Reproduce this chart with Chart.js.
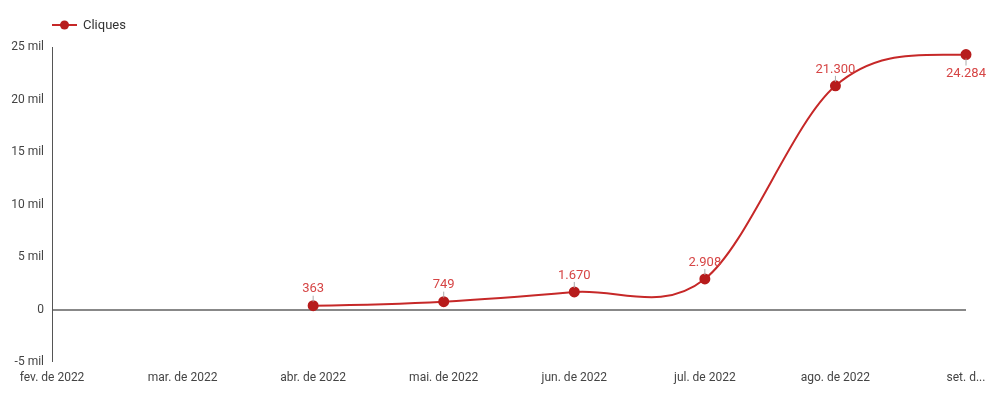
<!DOCTYPE html>
<html>
<head>
<meta charset="utf-8">
<script src="https://cdn.jsdelivr.net/npm/chart.js@4"></script>
<style>
    html, body { margin: 0; padding: 0; background: #fff; }
    #wrap { width: 990px; height: 393px; }
</style>
</head>
<body>
<div id="wrap"><canvas id="chart"></canvas></div>
<script>
// Dados do gráfico
const meses = ['fev. de 2022', 'mar. de 2022', 'abr. de 2022', 'mai. de 2022', 'jun. de 2022', 'jul. de 2022', 'ago. de 2022', 'set. de 2022'];
const cliques = [null, null, 363, 749, 1670, 2908, 21300, 24284];
const serieNome = 'Cliques';

const COR_LINHA = '#c62828';
const COR_PONTO = '#b71c1c';
const COR_ROTULO = '#d64545';
const FONTE = 'Roboto, "Noto Sans", sans-serif';

// formato pt-BR: 21.300
const fmt = v => v.toLocaleString('pt-BR');

// legenda desenhada à mão (linha + ponto)
const legendaPlugin = {
    id: 'legenda',
    afterDraw(chart) {
        const ctx = chart.ctx;
        ctx.save();
        ctx.strokeStyle = COR_LINHA;
        ctx.lineWidth = 2;
        ctx.beginPath();
        ctx.moveTo(52, 25);
        ctx.lineTo(77, 25);
        ctx.stroke();
        ctx.fillStyle = COR_PONTO;
        ctx.beginPath();
        ctx.arc(64.5, 25, 4.5, 0, Math.PI * 2);
        ctx.fill();
        ctx.fillStyle = '#333';
        ctx.font = '13px ' + FONTE;
        ctx.textBaseline = 'middle';
        ctx.fillText(serieNome, 83, 26);
        ctx.restore();
    }
};

// curva tipo Catmull-Rom (substitui os pontos de controle do Chart.js)
const curvaPlugin = {
    id: 'curva',
    beforeDatasetDraw(chart, args) {
        const meta = args.meta;
        const pts = meta.data.filter(p => !p.skip);
        const n = pts.length;
        if (n < 2) return;
        const passo = pts[1].x - pts[0].x;
        pts.forEach((p, i) => {
            let m;
            if (i === 0) m = (pts[1].y - p.y) / 2;
            else if (i === n - 1) m = (p.y - pts[i - 1].y) / 6;
            else m = (pts[i + 1].y - pts[i - 1].y) / 2;
            p.cp1x = p.x - passo / 3;
            p.cp1y = p.y - m / 3;
            p.cp2x = p.x + passo / 3;
            p.cp2y = p.y + m / 3;
        });
        meta.dataset._pointsUpdated = true;
    }
};

// rótulos de valor com pequena linha guia
const rotulosPlugin = {
    id: 'rotulos',
    afterDatasetsDraw(chart) {
        const ctx = chart.ctx;
        const meta = chart.getDatasetMeta(0);
        const dados = chart.data.datasets[0].data;
        const ultimo = dados.length - 1;
        ctx.save();
        ctx.font = '13px ' + FONTE;
        ctx.textAlign = 'center';
        meta.data.forEach((pt, i) => {
            const v = dados[i];
            if (v === null) return;
            const abaixo = i === ultimo;
            ctx.strokeStyle = '#aaa';
            ctx.lineWidth = 1;
            ctx.beginPath();
            if (abaixo) {
                ctx.moveTo(pt.x, pt.y + 4);
                ctx.lineTo(pt.x, pt.y + 11);
            } else {
                ctx.moveTo(pt.x, pt.y - 4);
                ctx.lineTo(pt.x, pt.y - 10);
            }
            ctx.stroke();
            ctx.fillStyle = COR_ROTULO;
            if (abaixo) {
                ctx.textBaseline = 'top';
                ctx.fillText(fmt(v), pt.x, pt.y + 13);
            } else {
                ctx.textBaseline = 'bottom';
                ctx.fillText(fmt(v), pt.x, pt.y - 10);
            }
        });
        ctx.restore();
    }
};

new Chart(document.getElementById('chart'), {
    type: 'line',
    data: {
        labels: meses,
        datasets: [{
            label: serieNome,
            data: cliques,
            borderColor: COR_LINHA,
            backgroundColor: COR_PONTO,
            pointBackgroundColor: COR_PONTO,
            pointBorderColor: COR_PONTO,
            pointRadius: 4.5,
            borderWidth: 2,
            tension: 0.4,
            spanGaps: false
        }]
    },
    options: {
        responsive: true,
        maintainAspectRatio: false,
        animation: false,
        layout: { padding: { top: 47, right: 24, left: 0, bottom: 0 } },
        plugins: {
            legend: { display: false },
            tooltip: { enabled: false }
        },
        scales: {
            x: {
                offset: false,
                grid: { display: false },
                border: { display: false },
                afterFit: s => { s.height = 31; },
                ticks: {
                    maxRotation: 0,
                    autoSkip: false,
                    padding: 1,
                    color: '#444',
                    font: { family: FONTE, size: 12 },
                    callback: function (val, idx, ticks) {
                        const l = this.getLabelForValue(val);
                        return idx === ticks.length - 1 ? l.slice(0, 6) + '...' : l;
                    }
                }
            },
            y: {
                min: -5000,
                max: 25000,
                afterFit: s => { s.width = 52; },
                border: { display: true, color: '#555', width: 1 },
                grid: {
                    drawTicks: false,
                    lineWidth: ctx => ctx.tick && ctx.tick.value === 0 ? 2 : 0,
                    color: ctx => ctx.tick && ctx.tick.value === 0 ? '#888' : 'rgba(0,0,0,0)'
                },
                ticks: {
                    stepSize: 5000,
                    padding: 8,
                    color: '#444',
                    font: { family: FONTE, size: 12 },
                    callback: v => v === 0 ? '0' : (v / 1000) + ' mil'
                }
            }
        }
    },
    plugins: [curvaPlugin, legendaPlugin, rotulosPlugin]
});
</script>
</body>
</html>
